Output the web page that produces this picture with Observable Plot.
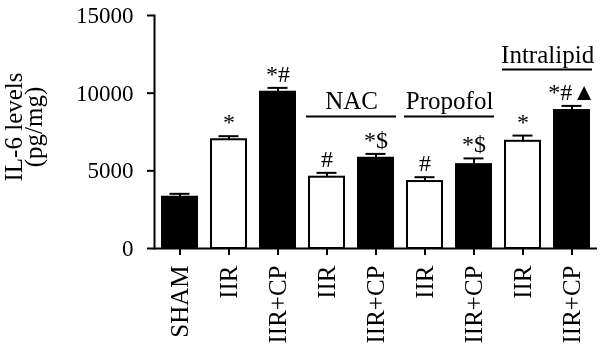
<!DOCTYPE html>
<html><head><meta charset="utf-8">
<script src="https://cdn.jsdelivr.net/npm/d3@7"></script>
<script src="https://cdn.jsdelivr.net/npm/@observablehq/plot@0.6"></script>
<style>html,body{margin:0;padding:0;background:#fff} svg{display:block;will-change:transform}</style>
</head><body><div id="chart"></div>
<script>
// ---- data ----
const ids = ["SHAM","IIR","IIR+CP","NAC IIR","NAC IIR+CP","Propofol IIR","Propofol IIR+CP","Intralipid IIR","Intralipid IIR+CP"];
const tickLabels = ["SHAM","IIR","IIR+CP","IIR","IIR+CP","IIR","IIR+CP","IIR","IIR+CP"];
const il6 = [3300, 7000, 10060, 4590, 5810, 4310, 5400, 6900, 8880];
const sem = [220, 230, 280, 280, 280, 280, 400, 370, 300];
const sigMarks = ["", "*", "*#", "#", "*$", "#", "*$", "*", "*#▲"];
const groupNames = ["NAC", "Propofol", "Intralipid"];
const groupFirst = ["NAC IIR", "Propofol IIR", "Intralipid IIR"];
const groupLast = ["NAC IIR+CP", "Propofol IIR+CP", "Intralipid IIR+CP"];
const groupLevel = [8500, 8500, 11520];
const yTicks = [0, 5000, 10000, 15000];

const data = ids.map((id, i) => ({id, label: tickLabels[i], value: il6[i], err: sem[i], top: il6[i] + sem[i], sig: sigMarks[i], solid: tickLabels[i] !== "IIR"}));
const groups = groupNames.map((name, i) => ({name, first: groupFirst[i], last: groupLast[i], level: groupLevel[i]}));

// ---- layout ----
const W = 600, H = 351, mL = 154, mR = 3, mT = 15, mB = 103;
const padIn = 0.29, padOut = 0.145;
const step = (W - mL - mR) / (ids.length - padIn + 2 * padOut);
const FONT = "'Liberation Serif', 'Times New Roman', serif";

const chart = Plot.plot({
  width: W, height: H,
  marginLeft: mL, marginRight: mR, marginTop: mT, marginBottom: mB,
  style: {fontFamily: FONT, fontSize: "23px", color: "black", background: "white"},
  x: {domain: ids, paddingInner: padIn, paddingOuter: padOut},
  y: {domain: [0, 15000]},
  marks: [
    Plot.frame({anchor: "left", stroke: "black", strokeWidth: 2}),
    Plot.axisY({ticks: yTicks, tickSize: 7, tickPadding: 14, tickFormat: d => String(d), label: null, strokeWidth: 2, fontSize: 23, fontFamily: FONT}),
    Plot.axisX({tickSize: 7, tickPadding: 10, tickRotate: -90, tickFormat: (d) => tickLabels[ids.indexOf(d)], label: null, strokeWidth: 2, fontSize: 25, fontFamily: FONT}),
    Plot.ruleX(data, {x: "id", y1: "value", y2: "top", stroke: "black", strokeWidth: 2}),
    Plot.tickY(data, {x: "id", y: "top", stroke: "black", strokeWidth: 2, insetLeft: 7.5, insetRight: 7.5}),
    Plot.barY(data, {x: "id", y: "value", fill: d => d.solid ? "black" : "white", stroke: "black", strokeWidth: 2}),
    Plot.ruleY([0], {stroke: "black", strokeWidth: 2}),
    Plot.text(data, {x: "id", y: "top", text: "sig", lineAnchor: "bottom", dy: -6, fontSize: 24, fontFamily: FONT, fill: "black"}),
    Plot.ruleY(groups, {x1: "first", x2: "last", y: "level", stroke: "black", strokeWidth: 2, insetLeft: -3, insetRight: -3}),
    Plot.text(groups, {x: "first", y: "level", text: "name", dx: step / 2, dy: -7, lineAnchor: "bottom", fontSize: 25, fontFamily: FONT, fill: "black"}),
    Plot.text(["IL-6 levels\n(pg/mg)"], {frameAnchor: "left", textAnchor: "middle", rotate: -90, dx: -129, dy: -5, lineHeight: 0.8, fontSize: 25, fontFamily: FONT, fill: "black"})
  ]
});
document.getElementById("chart").appendChild(chart);
</script>
</body></html>
